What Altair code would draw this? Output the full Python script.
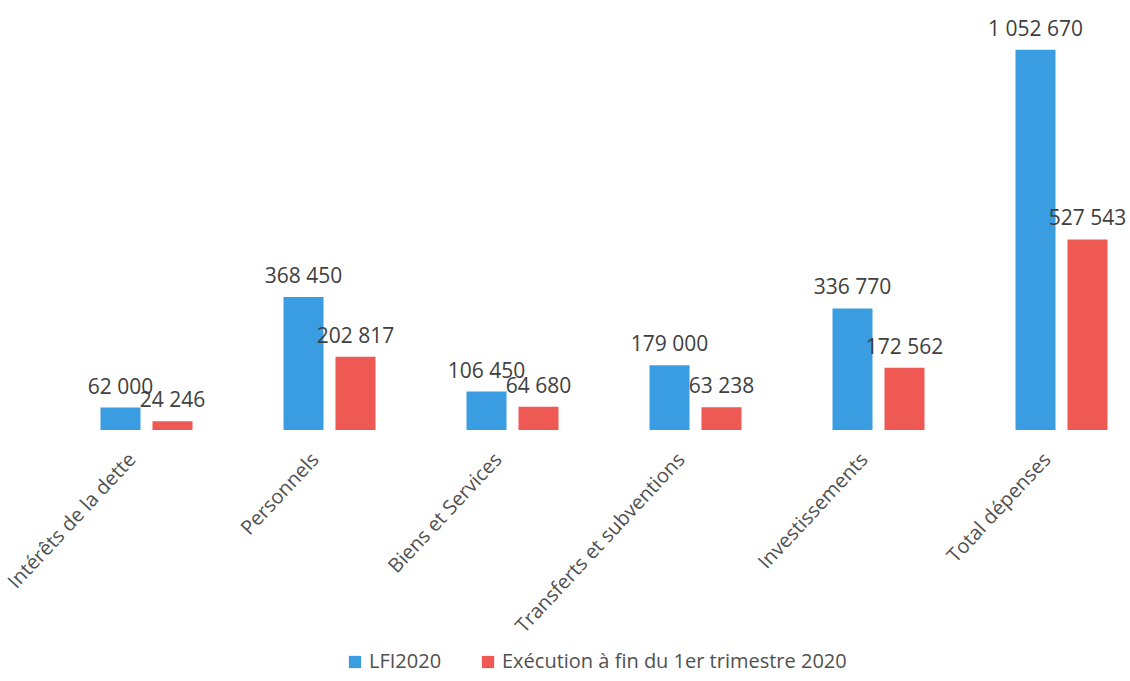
import altair as alt
import pandas as pd

categories = ["Intérêts de la dette", "Personnels", "Biens et Services",
              "Transferts et subventions", "Investissements", "Total dépenses"]
series = ["LFI2020", "Exécution à fin du 1er trimestre 2020"]
lfi = [62000, 368450, 106450, 179000, 336770, 1052670]
execution = [24246, 202817, 64680, 63238, 172562, 527543]
colors = ["#3b9de1", "#ee5953"]

rows = []
for c, a, b in zip(categories, lfi, execution):
    rows.append({"cat": c, "series": series[0], "value": a})
    rows.append({"cat": c, "series": series[1], "value": b})
df = pd.DataFrame(rows)
df["label"] = df["value"].map(lambda v: f"{v:,}".replace(",", " "))

FONT = "Open Sans"

x = alt.X("cat:N", sort=categories, title=None,
          scale=alt.Scale(range=[0, 1098], paddingInner=0, paddingOuter=0),
          axis=alt.Axis(labelAngle=-47, labelAlign="right", labelBaseline="middle",
                        labelPadding=26, labelOffset=-14, domain=False, ticks=False,
                        labelFont=FONT, labelFontSize=20, labelColor="#505050",
                        labelLimit=400))
xo = alt.XOffset("series:N", sort=series,
                 scale=alt.Scale(paddingInner=0.2308, paddingOuter=0.875))
y = alt.Y("value:Q", scale=alt.Scale(domain=[0, 1080000], nice=False), axis=None)

bars = alt.Chart(df).mark_bar().encode(
    x=x, xOffset=xo, y=y,
    color=alt.Color("series:N", sort=series,
                    scale=alt.Scale(domain=series, range=colors),
                    legend=alt.Legend(title=None, orient="none", direction="horizontal",
                                      legendX=290, legendY=612,
                                      symbolType="square", symbolSize=150,
                                      symbolStrokeWidth=0,
                                      labelFont=FONT, labelFontSize=20,
                                      labelColor="#505050", columnPadding=36,
                                      labelLimit=500)),
)

texts = alt.Chart(df).mark_text(font=FONT, fontSize=21, color="#404040",
                                baseline="alphabetic", dy=-14).encode(
    x=x, xOffset=xo, y=y, text="label:N"
)

chart = alt.layer(bars, texts).properties(
    width=1075, height=390,
    autosize=alt.AutoSizeParams(type="none"),
    padding={"left": 55, "top": 40, "right": 0, "bottom": 251},
    background="white",
).configure_view(strokeWidth=0)

chart.save("out.html", embed_options={"renderer": "svg", "actions": False})
